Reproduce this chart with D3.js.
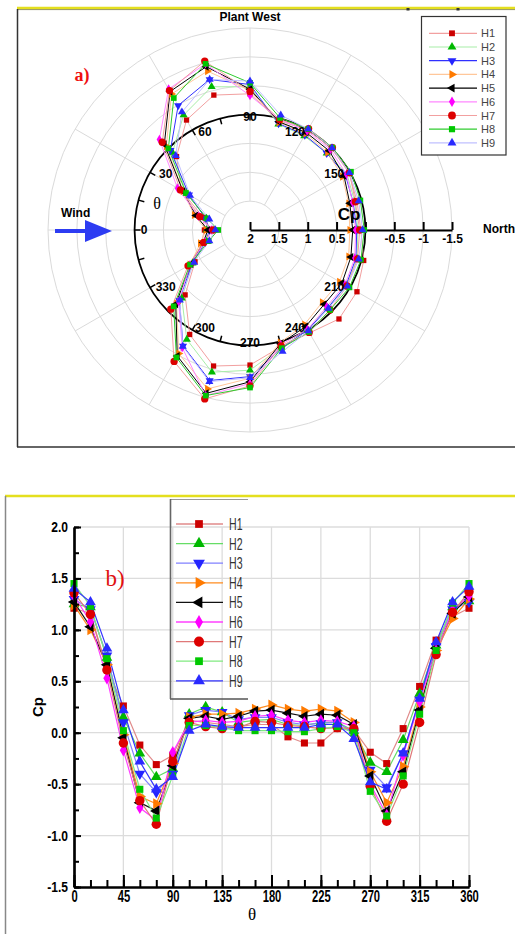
<!DOCTYPE html>
<html>
<head>
<meta charset="utf-8">
<script src="https://cdn.jsdelivr.net/npm/d3@7"></script>
<style>
  body { margin: 0; background: #fff; }
  svg { display: block; }
</style>
</head>
<body>
<svg id="chart" width="515" height="934"></svg>
<script>
// Pressure coefficient Cp around the building, nine heights H1..H9, every 15 degrees
const theta = [0, 15, 30, 45, 60, 75, 90, 105, 120, 135, 150, 165, 180, 195, 210, 225, 240, 255, 270, 285, 300, 315, 330, 345, 360];
const seriesNames = ["H1", "H2", "H3", "H4", "H5", "H6", "H7", "H8", "H9"];

// Cp versus theta (panel b)
const H1 = [1.21, 1.16, 0.63, 0.26, -0.12, -0.31, -0.22, 0.12, 0.10, 0.08, 0.06, 0.08, 0.08, -0.04, -0.10, -0.10, 0.04, 0.03, -0.19, -0.30, 0.04, 0.45, 0.90, 1.13, 1.21];
const H2 = [1.25, 1.22, 0.73, 0.15, -0.20, -0.43, -0.35, 0.18, 0.25, 0.20, 0.10, 0.12, 0.13, 0.08, 0.07, 0.10, 0.10, 0.02, -0.29, -0.38, -0.07, 0.38, 0.85, 1.22, 1.28];
const H3 = [1.30, 1.20, 0.75, 0.10, -0.40, -0.58, -0.40, 0.17, 0.22, 0.20, 0.13, 0.15, 0.15, 0.10, 0.08, 0.09, 0.10, 0.00, -0.36, -0.53, -0.20, 0.32, 0.84, 1.20, 1.27];
const H4 = [1.24, 1.00, 0.66, -0.02, -0.62, -0.69, -0.30, 0.15, 0.18, 0.18, 0.19, 0.23, 0.27, 0.23, 0.21, 0.23, 0.21, 0.10, -0.38, -0.68, -0.33, 0.25, 0.80, 1.11, 1.30];
const H5 = [1.27, 1.03, 0.66, -0.05, -0.68, -0.76, -0.32, 0.14, 0.16, 0.13, 0.16, 0.21, 0.22, 0.19, 0.16, 0.18, 0.17, 0.08, -0.42, -0.76, -0.38, 0.22, 0.82, 1.16, 1.32];
const H6 = [1.33, 1.08, 0.53, -0.17, -0.73, -0.85, -0.19, 0.10, 0.12, 0.10, 0.11, 0.16, 0.17, 0.12, 0.10, 0.12, 0.11, 0.06, -0.50, -0.80, -0.22, 0.30, 0.80, 1.19, 1.33];
const H7 = [1.36, 1.15, 0.61, -0.10, -0.66, -0.89, -0.28, 0.10, 0.06, 0.04, 0.05, 0.11, 0.10, 0.07, 0.06, 0.04, 0.05, 0.04, -0.52, -0.86, -0.50, 0.10, 0.76, 1.17, 1.37];
const H8 = [1.45, 1.23, 0.72, 0.02, -0.55, -0.83, -0.42, 0.07, 0.07, 0.05, 0.02, 0.02, 0.02, 0.01, 0.01, 0.04, 0.06, 0.00, -0.57, -0.81, -0.42, 0.18, 0.80, 1.26, 1.45];
const H9 = [1.40, 1.27, 0.82, 0.22, -0.28, -0.55, -0.43, 0.02, 0.08, 0.06, 0.05, 0.05, 0.05, 0.05, 0.05, 0.08, 0.08, -0.06, -0.48, -0.55, -0.20, 0.33, 0.88, 1.27, 1.42];
const seriesValues = [H1, H2, H3, H4, H5, H6, H7, H8, H9];

// Cp on the polar panel (a), 0..345 degrees, closed loop
const polarH1 = [1.21, 1.16, 0.63, 0.20, -0.20, -0.42, -0.36, 0.04, 0.00, 0.00, 0.02, 0.08, 0.08, -0.04, -0.14, -0.18, -0.06, -0.09, -0.34, -0.44, -0.09, 0.41, 0.90, 1.13];
const polarH2 = [1.25, 1.22, 0.73, 0.10, -0.30, -0.57, -0.48, 0.10, 0.12, 0.12, 0.06, 0.12, 0.13, 0.08, 0.07, 0.10, 0.00, -0.10, -0.43, -0.55, -0.19, 0.33, 0.85, 1.22];
const polarH3 = [1.30, 1.20, 0.78, 0.05, -0.49, -0.70, -0.52, 0.09, 0.10, 0.12, 0.09, 0.15, 0.15, 0.10, 0.08, 0.09, 0.00, -0.12, -0.54, -0.70, -0.32, 0.27, 0.84, 1.20];
const polarH4 = [1.24, 1.00, 0.66, -0.05, -0.72, -0.85, -0.42, 0.07, 0.07, 0.10, 0.15, 0.23, 0.27, 0.23, 0.21, 0.23, 0.11, -0.02, -0.57, -0.85, -0.47, 0.20, 0.80, 1.11];
const polarH5 = [1.27, 1.03, 0.66, -0.10, -0.77, -0.93, -0.44, 0.06, 0.05, 0.06, 0.12, 0.21, 0.22, 0.19, 0.16, 0.18, 0.07, -0.04, -0.63, -0.93, -0.52, 0.18, 0.82, 1.16];
const polarH6 = [1.33, 1.08, 0.55, -0.22, -0.82, -0.98, -0.33, 0.02, 0.02, 0.03, 0.07, 0.16, 0.17, 0.12, 0.10, 0.12, 0.01, -0.06, -0.66, -0.97, -0.35, 0.25, 0.80, 1.19];
const polarH7 = [1.36, 1.10, 0.61, -0.15, -0.79, -1.03, -0.40, 0.02, -0.03, -0.02, 0.01, 0.11, 0.10, 0.07, 0.06, 0.04, -0.05, -0.08, -0.70, -1.03, -0.63, 0.06, 0.76, 1.17];
const polarH8 = [1.45, 1.23, 0.72, 0.00, -0.64, -0.98, -0.55, -0.01, -0.02, -0.02, -0.02, 0.02, 0.02, 0.01, 0.01, 0.04, -0.04, -0.12, -0.73, -0.97, -0.55, 0.13, 0.80, 1.26];
const polarH9 = [1.40, 1.27, 0.80, 0.18, -0.36, -0.70, -0.58, -0.06, -0.02, -0.01, 0.01, 0.05, 0.05, 0.05, 0.05, 0.08, -0.02, -0.18, -0.56, -0.72, -0.33, 0.28, 0.88, 1.27];
const polarValues = [polarH1, polarH2, polarH3, polarH4, polarH5, polarH6, polarH7, polarH8, polarH9];

// Tick labels
const polarAngleTicks = [0, 30, 60, 90, 120, 150, 210, 240, 270, 300, 330];
const cpAxisTicks = [2, 1.5, 1, 0.5, 0, -0.5, -1, -1.5];
const xTicksMajor = [0, 45, 90, 135, 180, 225, 270, 315, 360];
const yTicksMajor = [-1.5, -1.0, -0.5, 0.0, 0.5, 1.0, 1.5, 2.0];

// Styling per series
const markerColor = ["#cc0000", "#00b800", "#2424ff", "#ff7a00", "#000000", "#ff00ff", "#dd0000", "#00c800", "#2a2aff"];
const lineColorPolar = ["#f2a0a0", "#a8eea8", "#3030ff", "#ffc79a", "#000000", "#ff88ff", "#f2a0a0", "#30cc30", "#c0c0ff"];
const lineColorCart = ["#e08a8a", "#66dd66", "#8080ff", "#ff8c20", "#111111", "#ff40ff", "#e07878", "#80ea80", "#3333ff"];
const symType = [d3.symbolSquare, d3.symbolTriangle, d3.symbolTriangle, d3.symbolTriangle, d3.symbolTriangle,
                 d3.symbolDiamond, d3.symbolCircle, d3.symbolSquare, d3.symbolTriangle];
const symRot = [0, 0, 180, 90, -90, 0, 0, 0, 0];
const symSizeCart = [50, 50, 50, 50, 50, 45, 70, 50, 50];
const symSizePolar = [28, 28, 28, 28, 28, 26, 42, 32, 28];

const svg = d3.select("#chart");
const sans = "'Liberation Sans', Arial, sans-serif";
const serif = "'Liberation Serif', 'Times New Roman', serif";

function marker(g, i, size, x, y) {
  g.append("path")
    .attr("d", d3.symbol().type(symType[i]).size(size)())
    .attr("transform", `translate(${x},${y}) rotate(${symRot[i]})`)
    .attr("fill", markerColor[i]);
}

// squeeze text horizontally to a condensed face
function squeeze(sel, factor) {
  sel.each(function () {
    const w = this.getComputedTextLength();
    if (w > 0) {
      d3.select(this).attr("textLength", w * factor).attr("lengthAdjust", "spacingAndGlyphs");
    }
  });
}

// ---------- Panel a: polar plot ----------
const pa = svg.append("g");
pa.append("line").attr("x1", 17).attr("x2", 515).attr("y1", 8).attr("y2", 8)
  .attr("stroke", "#e4df1e").attr("stroke-width", 2.5);
pa.append("line").attr("x1", 17).attr("x2", 515).attr("y1", 9.6).attr("y2", 9.6)
  .attr("stroke", "#6b6a30").attr("stroke-width", 0.7);
[408, 458].forEach(x => pa.append("rect").attr("x", x - 1.5).attr("y", 8).attr("width", 3).attr("height", 2.5).attr("fill", "#333"));
pa.append("line").attr("x1", 17.5).attr("x2", 17.5).attr("y1", 9).attr("y2", 447)
  .attr("stroke", "#333").attr("stroke-width", 1.5);
pa.append("line").attr("x1", 17).attr("x2", 515).attr("y1", 447).attr("y2", 447)
  .attr("stroke", "#333").attr("stroke-width", 1.5);

const cx = 250, cy = 230;
const rScale = d3.scaleLinear().domain([2, -1.5]).range([0, 202]);
const rad = t => (t - 90) * Math.PI / 180;   // theta 0 points west (left), increasing clockwise
const polar = pa.append("g").attr("transform", `translate(${cx},${cy})`);

// grid rings and spokes
[1.5, 1, 0.5, -0.5, -1, -1.5].forEach(v => {
  polar.append("circle").attr("r", rScale(v)).attr("fill", "none")
    .attr("stroke", "#dadada").attr("stroke-width", 1);
});
d3.range(0, 360, 30).forEach(t => {
  const p0 = d3.pointRadial(rad(t), rScale(1.5));
  const p1 = d3.pointRadial(rad(t), rScale(-1.5));
  polar.append("line").attr("x1", p0[0]).attr("y1", p0[1]).attr("x2", p1[0]).attr("y2", p1[1])
    .attr("stroke", "#dadada").attr("stroke-width", 1);
});

// Cp = 0 reference circle with angle ticks
polar.append("circle").attr("r", rScale(0)).attr("fill", "none")
  .attr("stroke", "#000").attr("stroke-width", 1.8);
d3.range(0, 360, 15).forEach(t => {
  const p0 = d3.pointRadial(rad(t), rScale(0));
  const p1 = d3.pointRadial(rad(t), rScale(0) - 6);
  polar.append("line").attr("x1", p0[0]).attr("y1", p0[1]).attr("x2", p1[0]).attr("y2", p1[1])
    .attr("stroke", "#000").attr("stroke-width", 1.5);
});

// Cp radial axis toward North
const cpX = d3.scaleLinear().domain([2, -1.5]).range([0, 202]);
const cpAxis = polar.append("g")
  .call(d3.axisBottom(cpX).tickValues(cpAxisTicks).tickSize(-8).tickSizeOuter(0).tickPadding(4)
    .tickFormat(d => d === 0 ? "" : String(d)));
cpAxis.select(".domain").attr("stroke", "#000").attr("stroke-width", 2.2);
cpAxis.selectAll(".tick line").attr("stroke", "#000").attr("stroke-width", 2);
cpAxis.selectAll("text").attr("font-family", sans).attr("font-weight", "bold").attr("font-size", 12).attr("fill", "#000");

// series
const radialLine = d3.lineRadial().angle(d => rad(d.t)).radius(d => rScale(d.v)).curve(d3.curveLinearClosed);
polarValues.forEach((vals, i) => {
  const pts = vals.map((v, k) => ({ t: theta[k], v }));
  polar.append("path").attr("d", radialLine(pts)).attr("fill", "none")
    .attr("stroke", lineColorPolar[i]).attr("stroke-width", 1);
});
polarValues.forEach((vals, i) => {
  vals.forEach((v, k) => {
    const p = d3.pointRadial(rad(theta[k]), rScale(v));
    marker(polar, i, symSizePolar[i], p[0], p[1]);
  });
});

// angle labels, set just inside the reference circle
polarAngleTicks.forEach(t => {
  const a = t * Math.PI / 180;
  const rx = (t === 0 ? 106 : 80 + 20 * Math.abs(Math.cos(a)));
  pa.append("text").attr("x", cx - rx * Math.cos(a)).attr("y", cy - 113 * Math.sin(a))
    .attr("text-anchor", "middle").attr("dominant-baseline", "central")
    .attr("font-family", sans).attr("font-weight", "bold").attr("font-size", 12).text(t);
});
pa.append("text").attr("x", 157).attr("y", 209).attr("text-anchor", "middle")
  .attr("font-family", serif).attr("font-size", 16).text("θ");
pa.append("text").attr("x", 349).attr("y", 220).attr("text-anchor", "middle")
  .attr("font-family", sans).attr("font-weight", "bold").attr("font-size", 17).text("Cp");
pa.append("text").attr("x", 250).attr("y", 21).attr("text-anchor", "middle")
  .attr("font-family", sans).attr("font-weight", "bold").attr("font-size", 12).text("Plant West");
pa.append("text").attr("x", 483).attr("y", 233)
  .attr("font-family", sans).attr("font-weight", "bold").attr("font-size", 12).text("North");
pa.append("text").attr("x", 61).attr("y", 217)
  .attr("font-family", sans).attr("font-weight", "bold").attr("font-size", 12).text("Wind");
pa.append("text").attr("x", 82).attr("y", 81).attr("text-anchor", "middle")
  .attr("font-family", serif).attr("font-weight", "bold").attr("font-size", 18).attr("fill", "#f01010").text("a)");

// wind arrow
pa.append("path").attr("d", "M55,229 L85,229 L85,220 L112,231 L85,242 L85,233 L55,233 Z")
  .attr("fill", "#2d3cf2");

// legend a
const la = pa.append("g");
la.append("rect").attr("x", 421.5).attr("y", 16.5).attr("width", 84.5).attr("height", 138.5)
  .attr("fill", "#fff").attr("stroke", "#333").attr("stroke-width", 1.2);
seriesNames.forEach((name, i) => {
  const y = 33.3 + i * 13.7;
  la.append("line").attr("x1", 429).attr("x2", 477).attr("y1", y).attr("y2", y)
    .attr("stroke", lineColorPolar[i]).attr("stroke-width", 1.2);
  marker(la, i, symSizePolar[i] + 6, 452, y);
  la.append("text").attr("x", 481).attr("y", y + 4).attr("font-family", sans)
    .attr("font-size", 11).attr("fill", "#444").text(name);
});

// ---------- Panel b: Cp versus theta ----------
const pb = svg.append("g");
pb.append("line").attr("x1", 5).attr("x2", 515).attr("y1", 496).attr("y2", 496)
  .attr("stroke", "#e4df1e").attr("stroke-width", 2.5);
pb.append("line").attr("x1", 5.5).attr("x2", 5.5).attr("y1", 496).attr("y2", 934)
  .attr("stroke", "#888").attr("stroke-width", 1.5);

const x = d3.scaleLinear().domain([0, 360]).range([74, 469]);
const y = d3.scaleLinear().domain([-1.5, 2]).range([887, 527]);

// grid
xTicksMajor.slice(1).forEach(t => pb.append("line").attr("x1", x(t)).attr("x2", x(t)).attr("y1", y(-1.5)).attr("y2", y(2))
  .attr("stroke", "#dcdcdc").attr("stroke-width", 1.3));
yTicksMajor.slice(1).forEach(v => pb.append("line").attr("x1", x(0)).attr("x2", x(360)).attr("y1", y(v)).attr("y2", y(v))
  .attr("stroke", "#dcdcdc").attr("stroke-width", 1.3));

// legend b (open box, grid shows through)
const lb = pb.append("g");
lb.append("line").attr("x1", 170).attr("x2", 248).attr("y1", 499.5).attr("y2", 499.5).attr("stroke", "#999").attr("stroke-width", 1);
lb.append("line").attr("x1", 170).attr("x2", 248).attr("y1", 699).attr("y2", 699).attr("stroke", "#555").attr("stroke-width", 1.6);
lb.append("line").attr("x1", 170.5).attr("x2", 170.5).attr("y1", 499).attr("y2", 699).attr("stroke", "#666").attr("stroke-width", 1.6);
seriesNames.forEach((name, i) => {
  const yy = 524 + i * 19.6;
  lb.append("line").attr("x1", 176).attr("x2", 223).attr("y1", yy).attr("y2", yy)
    .attr("stroke", lineColorCart[i]).attr("stroke-width", 1.3);
  marker(lb, i, symSizeCart[i] + 10, 199, yy);
  lb.append("text").attr("class", "legb").attr("x", 229).attr("y", yy + 6)
    .attr("font-family", sans).attr("font-size", 16).attr("fill", "#333").text(name);
});
squeeze(lb.selectAll("text.legb"), 0.66);

// series
const line = d3.line().x(d => x(d.t)).y(d => y(d.v));
seriesValues.forEach((vals, i) => {
  const pts = theta.map((t, k) => ({ t, v: vals[k] }));
  pb.append("path").attr("d", line(pts)).attr("fill", "none")
    .attr("stroke", lineColorCart[i]).attr("stroke-width", 1.2);
});
seriesValues.forEach((vals, i) => {
  theta.forEach((t, k) => marker(pb, i, symSizeCart[i], x(t), y(vals[k])));
});

// axes
const xMinor = pb.append("g").attr("transform", `translate(0,${y(-1.5)})`)
  .call(d3.axisBottom(x).tickValues(theta).tickSize(-7).tickSizeOuter(0).tickFormat(""));
const xMajor = pb.append("g").attr("transform", `translate(0,${y(-1.5)})`)
  .call(d3.axisBottom(x).tickValues(xTicksMajor).tickSize(-12).tickSizeOuter(0).tickPadding(4));
const yMinor = pb.append("g").attr("transform", `translate(${x(0)},0)`)
  .call(d3.axisLeft(y).tickValues(d3.range(-1.5, 2.01, 0.25)).tickSize(-5).tickSizeOuter(0).tickFormat(""));
const yMajor = pb.append("g").attr("transform", `translate(${x(0)},0)`)
  .call(d3.axisLeft(y).tickValues(yTicksMajor).tickSize(-7).tickSizeOuter(0).tickPadding(6)
    .tickFormat(d => d.toFixed(1)));
[xMinor, xMajor, yMinor, yMajor].forEach(g => {
  g.select(".domain").attr("stroke", "#000").attr("stroke-width", 2.2);
  g.selectAll(".tick line").attr("stroke", "#000").attr("stroke-width", 2);
  g.selectAll("text").attr("font-family", sans).attr("font-weight", "bold").attr("fill", "#000");
});
xMajor.selectAll("text").attr("font-size", 16);
yMajor.selectAll("text").attr("font-size", 14);
squeeze(xMajor.selectAll("text"), 0.7);
squeeze(yMajor.selectAll("text"), 0.86);

pb.append("text").attr("transform", "translate(43,707) rotate(-90)").attr("text-anchor", "middle")
  .attr("font-family", sans).attr("font-weight", "bold").attr("font-size", 15).text("Cp");
pb.append("text").attr("x", 252).attr("y", 920).attr("text-anchor", "middle")
  .attr("font-family", serif).attr("font-size", 17).text("θ");
pb.append("text").attr("x", 115).attr("y", 586).attr("text-anchor", "middle")
  .attr("font-family", serif).attr("font-size", 23).attr("fill", "#e01010").text("b)");
</script>
</body>
</html>
